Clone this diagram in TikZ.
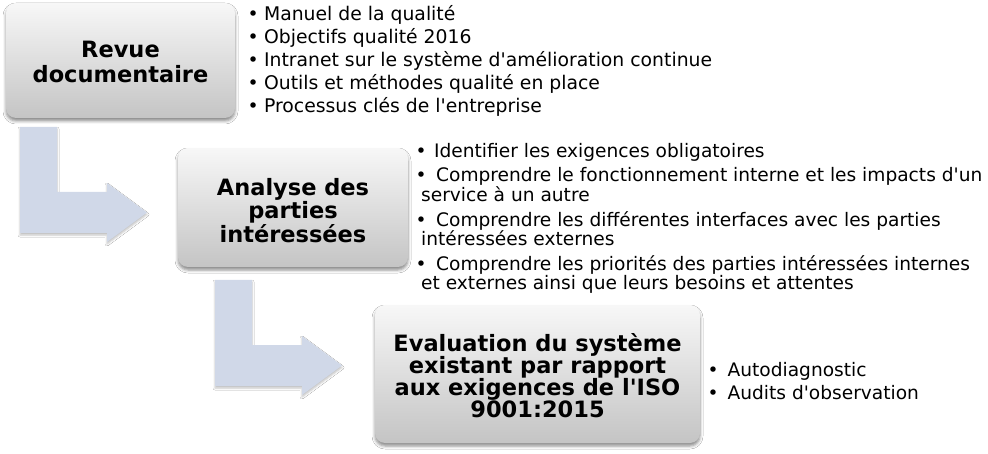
\documentclass[tikz,border=0pt]{standalone}
\usepackage{fontspec}
\setmainfont{DejaVu Sans}
\usetikzlibrary{shadows.blur}
\newcommand\sq{\textquotesingle}
\definecolor{arrowfill}{HTML}{D0D8E8}
\tikzset{
  x=1pt, y=-1pt,
  stagebox/.style={rounded corners=10pt, top color=black!3, bottom color=black!23,
    draw=none, align=center, inner sep=0pt,
    blur shadow={shadow xshift=0pt, shadow yshift=-3pt, shadow blur radius=3pt, shadow opacity=45},
    font=\bfseries\fontsize{22.5}{22}\selectfont},
  flowarrow/.style={fill=arrowfill, draw=none,
    blur shadow={shadow xshift=0pt, shadow yshift=-2pt, shadow blur radius=2pt, shadow opacity=25}},
  itemA/.style={anchor=base west, inner sep=0pt, font=\fontsize{18.8}{23}\selectfont},
  itemB/.style={anchor=base west, inner sep=0pt, font=\fontsize{18.6}{22}\selectfont},
}
\begin{document}
\begin{tikzpicture}
\useasboundingbox[fill=white] (0,0) rectangle (988,454);

% arrows
\draw[flowarrow] (20,127) -- (57,127) -- (57,192) -- (107,192) -- (107,183) -- (147,212.5)
  -- (107,242) -- (107,233) -- (20,233) -- cycle;
\draw[flowarrow] (215,280) -- (252,280) -- (252,345) -- (302,345) -- (302,336) -- (342,365.5)
  -- (302,395) -- (302,386) -- (215,386) -- cycle;

% boxes
\node[stagebox, minimum width=229pt, minimum height=115pt, font=\bfseries\fontsize{22.5}{25}\selectfont]
  (b1) at (120.5,60.5) {\rule{0pt}{20pt}Revue\\documentaire};
\node[stagebox, minimum width=230pt, minimum height=119pt, font=\bfseries\fontsize{22.5}{21.5}\selectfont]
  (b2) at (293,207.5) {\rule{0pt}{23pt}Analyse des\\parties\\intéressées};
\node[stagebox, minimum width=325pt, minimum height=138pt]
  (b3) at (537.5,374) {\rule{0pt}{22pt}Evaluation du système\\existant par rapport\\aux exigences de l\sq ISO\\9001:2015};

% list 1
\node[itemA] (l1a) at (247.5,20.5) {•\hspace{5.3pt}Manuel de la qualité};
\node[itemA] (l1b) at (247.5,43.5) {•\hspace{5.3pt}Objectifs qualité 2016};
\node[itemA] (l1c) at (247.5,66.5) {•\hspace{5.3pt}Intranet sur le système d\sq amélioration continue};
\node[itemA] (l1d) at (247.5,89.5) {•\hspace{5.3pt}Outils et méthodes qualité en place};
\node[itemA] (l1e) at (247.5,112.5) {•\hspace{5.3pt}Processus clés de l\sq entreprise};

% list 2
\node[itemB] (l2a) at (415.5,158) {•\hspace{7.5pt}Identifier les exigences obligatoires};
\node[itemB] (l2b) at (415.5,181.5) {•\hspace{9.5pt}Comprendre le fonctionnement interne et les impacts d\sq un};
\node[itemB] (l2c) at (421,201.5) {service à un autre};
\node[itemB] (l2d) at (415.5,226.5) {•\hspace{9.5pt}Comprendre les différentes interfaces avec les parties};
\node[itemB] (l2e) at (421,245.5) {intéressées externes};
\node[itemB] (l2f) at (415.5,271) {•\hspace{9.5pt}Comprendre les priorités des parties intéressées internes};
\node[itemB] (l2g) at (421,290) {et externes ainsi que leurs besoins et attentes};

% list 3
\node[itemB] (l3a) at (707.5,376) {•\hspace{9pt}Autodiagnostic};
\node[itemB] (l3b) at (707.5,399.3) {•\hspace{9pt}Audits d\sq observation};
\end{tikzpicture}
\end{document}
